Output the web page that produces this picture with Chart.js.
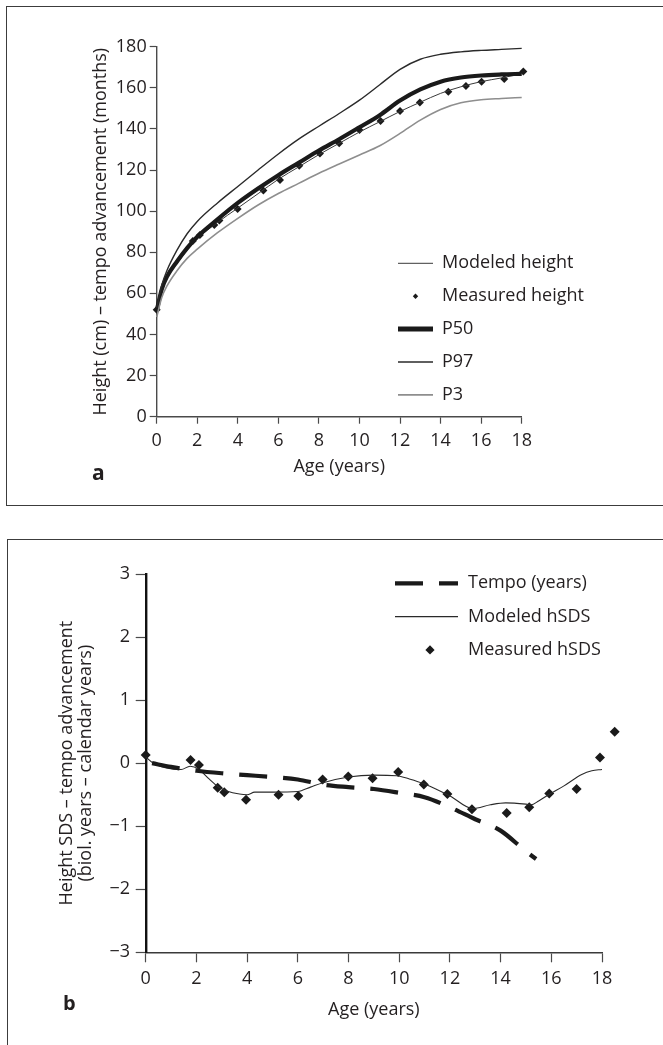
<!DOCTYPE html>
<html>
<head>
<meta charset="utf-8">
<script src="https://cdn.jsdelivr.net/npm/chart.js@4.4.1/dist/chart.umd.min.js"></script>
<style>
  html, body { margin: 0; padding: 0; background: #fff; }
  body { width: 663px; height: 1045px; position: relative; overflow: hidden; }
  .frame { position: absolute; border: 1.5px solid #3c3c3c; border-right: none; }
  #frameA { left: 6px; top: 6px; width: 700px; height: 498px; }
  #frameB { left: 7px; top: 539px; width: 700px; height: 600px; border-bottom: none; }
  canvas { position: absolute; left: 0; }
  #chartA { top: 0; }
  #chartB { top: 525px; }
</style>
</head>
<body>
<div class="frame" id="frameA"></div>
<div class="frame" id="frameB"></div>
<canvas id="chartA" width="663" height="520"></canvas>
<canvas id="chartB" width="663" height="520"></canvas>
<script>
// ---- panel a: height ----
const agesA = [0, 0.25, 0.5, 1, 1.5, 2, 3, 4, 5, 6, 7, 8, 9, 10, 11, 12, 13, 14, 15, 16, 17, 18];
const p97 = [53, 64, 71, 81, 89, 95, 104, 112, 120, 127.8, 135, 141.3, 147.5, 154, 161.5, 169, 173.9, 176.3, 177.5, 178.2, 178.7, 179.2];
const p50 = [51.5, 62, 68, 75.5, 82, 87.5, 96, 104, 111, 117.5, 123.5, 129.5, 135, 140.8, 146.7, 153.8, 159.2, 163, 165, 166, 166.5, 166.8];
const p3 = [48.5, 58, 63.5, 71, 77, 81.5, 89.5, 96.5, 103, 108.6, 113.5, 118.4, 122.9, 127.3, 131.8, 137.8, 144.3, 149.5, 152.7, 154.2, 154.8, 155.3];
const modeledHeight = [52, 62, 67.5, 74.5, 81, 86.5, 94.5, 101.5, 108.5, 115.5, 121.5, 127.5, 133, 138.5, 143.5, 148.5, 153, 157.3, 160.5, 163, 164.8, 166.8];
const measuredAgeA = [0, 1.78, 2.13, 2.84, 3.09, 3.99, 5.26, 6.08, 7.03, 8.05, 9.0, 10.0, 11.04, 12.0, 12.98, 14.38, 15.25, 16.02, 17.14, 18.08];
const measuredHeight = [52, 85.5, 88.4, 93.3, 95.4, 101, 110, 115.1, 122.1, 128.1, 133, 139.5, 143.9, 148.7, 152.8, 158.1, 160.9, 163, 164.3, 167.9];
const heightTicks = [0, 20, 40, 60, 80, 100, 120, 140, 160, 180];

// ---- panel b: SDS / tempo ----
const tempoAge = [0.25, 1, 2, 3, 4, 5, 6, 7, 8, 9, 10, 11, 12, 13, 14, 15, 15.4];
const tempoYears = [0, -0.06, -0.12, -0.16, -0.19, -0.22, -0.26, -0.34, -0.38, -0.41, -0.47, -0.54, -0.7, -0.89, -1.07, -1.4, -1.52];
const modeledAgeB = [0, 0.3, 1.4, 1.75, 2.1, 2.5, 2.84, 3.2, 3.7, 4.0, 4.3, 5, 6, 6.5, 7, 8, 9, 9.9, 10.4, 11, 12, 12.9, 13.6, 14.2, 15, 15.2, 15.5, 15.9, 16.5, 17.2, 17.6, 18];
const modeledHsds = [0.1, 0, -0.1, -0.05, -0.1, -0.25, -0.37, -0.44, -0.49, -0.5, -0.46, -0.46, -0.45, -0.38, -0.31, -0.22, -0.19, -0.2, -0.25, -0.33, -0.52, -0.72, -0.66, -0.63, -0.65, -0.66, -0.6, -0.5, -0.36, -0.18, -0.12, -0.1];
const measuredAgeB = [0, 1.77, 2.1, 2.84, 3.1, 3.96, 5.24, 6.02, 6.98, 7.99, 8.95, 9.96, 10.97, 11.9, 12.87, 14.24, 15.13, 15.92, 17.0, 17.92, 18.5];
const measuredHsds = [0.13, 0.05, -0.03, -0.39, -0.46, -0.58, -0.5, -0.52, -0.26, -0.21, -0.24, -0.14, -0.34, -0.49, -0.73, -0.79, -0.7, -0.48, -0.41, 0.09, 0.5];
const sdsTicks = [-3, -2, -1, 0, 1, 2, 3];

const ageTicks = [0, 2, 4, 6, 8, 10, 12, 14, 16, 18];

const ink = '#231f20';
Chart.defaults.font.family = '"Open Sans", sans-serif';
Chart.defaults.font.size = 18;
Chart.defaults.color = ink;

function pts(xs, ys) {
  return xs.map((x, i) => ({ x: x, y: ys[i] }));
}

// legend drawn inside the plot + panel letter
const insideLegend = {
  id: 'insideLegend',
  // let marked datasets put points a little beyond the right edge (18.5 y point in b)
  beforeDatasetDraw(chart, args) {
    if (chart.data.datasets[args.index].drawOutside) {
      this._saved = chart.chartArea;
      chart.chartArea = Object.assign({}, chart.chartArea, { right: chart.chartArea.right + 30 });
    }
  },
  afterDatasetDraw(chart, args) {
    if (this._saved) {
      chart.chartArea = this._saved;
      this._saved = null;
    }
  },
  afterDraw(chart, args, opts) {
    const ctx = chart.ctx;
    ctx.save();
    ctx.font = '18px "Open Sans"';
    ctx.fillStyle = ink;
    ctx.textBaseline = 'middle';
    opts.order.forEach((idx, i) => {
      const ds = chart.data.datasets[idx];
      const y = opts.y + i * opts.step;
      if (ds.showLine === false) {
        const r = opts.dot, cx = opts.dotX;
        ctx.beginPath();
        ctx.moveTo(cx, y - r); ctx.lineTo(cx + r, y); ctx.lineTo(cx, y + r); ctx.lineTo(cx - r, y);
        ctx.closePath();
        ctx.fillStyle = ds.backgroundColor;
        ctx.fill();
        ctx.fillStyle = ink;
      } else {
        ctx.strokeStyle = ds.borderColor;
        ctx.lineWidth = ds.legendWidth || ds.borderWidth;
        ctx.setLineDash(ds.borderDash || []);
        ctx.beginPath();
        ctx.moveTo(opts.x0, y);
        ctx.lineTo(opts.x1, y);
        ctx.stroke();
        ctx.setLineDash([]);
      }
      ctx.fillText(ds.label, opts.textX, y);
    });
    ctx.font = 'bold ' + opts.letterSize + 'px "Open Sans"';
    ctx.textBaseline = 'alphabetic';
    ctx.fillText(opts.letter, opts.letterX, opts.letterY);
    ctx.restore();
  }
};

function lineSet(label, xs, ys, color, width, extra) {
  return Object.assign({
    label: label,
    data: pts(xs, ys),
    borderColor: color,
    borderWidth: width,
    pointRadius: 0,
    fill: false,
    cubicInterpolationMode: 'monotone',
    clip: false
  }, extra || {});
}

function pointSet(label, xs, ys, r) {
  return {
    label: label,
    data: pts(xs, ys),
    showLine: false,
    pointStyle: 'rectRot',
    pointRadius: r,
    pointBackgroundColor: '#1a1a1a',
    pointBorderColor: '#1a1a1a',
    pointBorderWidth: 0,
    backgroundColor: '#1a1a1a',
    borderColor: '#1a1a1a',
    drawOutside: true,
    clip: false
  };
}

// ---- chart a ----
new Chart(document.getElementById('chartA'), {
  type: 'line',
  data: {
    datasets: [
      lineSet('P3', agesA, p3, '#8e8e8e', 1.6),
      lineSet('P97', agesA, p97, '#2a2a2a', 1.4),
      lineSet('P50', agesA, p50, '#1a1a1a', 4.2, { legendWidth: 5 }),
      lineSet('Modeled height', agesA, modeledHeight, '#3a3a3a', 1),
      pointSet('Measured height', measuredAgeA, measuredHeight, 4)
    ]
  },
  options: {
    responsive: false,
    animation: false,
    devicePixelRatio: 1,
    events: [],
    layout: { padding: { left: 0, top: 46.7, right: 141.3, bottom: 23.3 } },
    plugins: {
      legend: { display: false },
      tooltip: { enabled: false },
      insideLegend: {
        order: [3, 4, 2, 1, 0],
        y: 263.3, step: 32.9, x0: 398, x1: 433, textX: 442, dotX: 415.5, dot: 2.7,
        letter: 'a', letterX: 92, letterY: 480, letterSize: 21
      }
    },
    scales: {
      x: {
        type: 'linear', min: 0,
        afterDataLimits: s => { s.max = 18; },
        afterBuildTicks: s => { s.ticks = ageTicks.map(v => ({ value: v })); },
        afterFit: s => { s.height = 80; },
        border: { display: true, color: '#4a4a4a', width: 1.4 },
        grid: { drawOnChartArea: false, drawTicks: true, tickLength: 7, tickColor: '#4a4a4a', tickWidth: 1.2 },
        ticks: { padding: 6.5, color: ink, maxRotation: 0 },
        title: { display: true, text: 'Age (years)', color: ink, font: { size: 18 }, padding: { top: 0, bottom: 19.2 } }
      },
      y: {
        type: 'linear', min: 0, max: 180,
        afterBuildTicks: s => { s.ticks = heightTicks.map(v => ({ value: v })); },
        afterFit: s => { s.width = 156.7; },
        border: { display: true, color: '#4a4a4a', width: 1.4 },
        grid: { drawOnChartArea: false, drawTicks: true, tickLength: 7, tickColor: '#4a4a4a', tickWidth: 1.2 },
        ticks: { padding: 3, color: ink },
        title: { display: true, text: 'Height (cm) \u2013 tempo advancement (months)', color: ink, font: { size: 18 }, padding: { top: 90.2, bottom: 0 } }
      }
    }
  },
  plugins: [insideLegend]
});

// ---- chart b ----
new Chart(document.getElementById('chartB'), {
  type: 'line',
  data: {
    datasets: [
      lineSet('Tempo (years)', tempoAge, tempoYears, '#1a1a1a', 4.2, { borderDash: [28, 16], borderCapStyle: 'butt' }),
      lineSet('Modeled hSDS', modeledAgeB, modeledHsds, '#2a2a2a', 1.1),
      pointSet('Measured hSDS', measuredAgeB, measuredHsds, 5)
    ]
  },
  options: {
    responsive: false,
    animation: false,
    devicePixelRatio: 1,
    events: [],
    layout: { padding: { left: 0, top: 49, right: 61, bottom: 12.7 } },
    plugins: {
      legend: { display: false },
      tooltip: { enabled: false },
      insideLegend: {
        order: [0, 1, 2],
        y: 58.3, step: 33.3, x0: 395, x1: 458, textX: 468, dotX: 430, dot: 4.6,
        letter: 'b', letterX: 63, letterY: 485, letterSize: 20
      }
    },
    scales: {
      x: {
        type: 'linear', min: 0,
        afterDataLimits: s => { s.max = 18; },
        afterBuildTicks: s => { s.ticks = ageTicks.map(v => ({ value: v })); },
        afterFit: s => { s.height = 80; },
        border: { display: true, color: '#3a3a3a', width: 1.5 },
        grid: { drawOnChartArea: false, drawTicks: true, tickLength: 10, tickColor: '#4a4a4a', tickWidth: 1.2 },
        ticks: { padding: 5.9, color: ink, maxRotation: 0 },
        title: { display: true, text: 'Age (years)', color: ink, font: { size: 18 }, padding: { top: 0, bottom: 11.5 } }
      },
      y: {
        type: 'linear', min: -3, max: 3,
        afterBuildTicks: s => { s.ticks = sdsTicks.map(v => ({ value: v })); },
        afterFit: s => { s.width = 145.7; },
        border: { display: true, color: '#111', width: 2.4 },
        grid: { drawOnChartArea: false, drawTicks: true, tickLength: 10, tickColor: '#4a4a4a', tickWidth: 1.2 },
        ticks: { padding: 5.7, color: ink, callback: v => (v < 0 ? '\u2212' + Math.abs(v) : String(v)) },
        title: {
          display: true,
          text: ['Height SDS \u2013 tempo advancement', '(biol. years \u2013 calendar years)'],
          color: ink, font: { size: 18, lineHeight: 1.05 }, padding: { top: 57.6, bottom: 0 }
        }
      }
    }
  },
  plugins: [insideLegend]
});
</script>
</body>
</html>
